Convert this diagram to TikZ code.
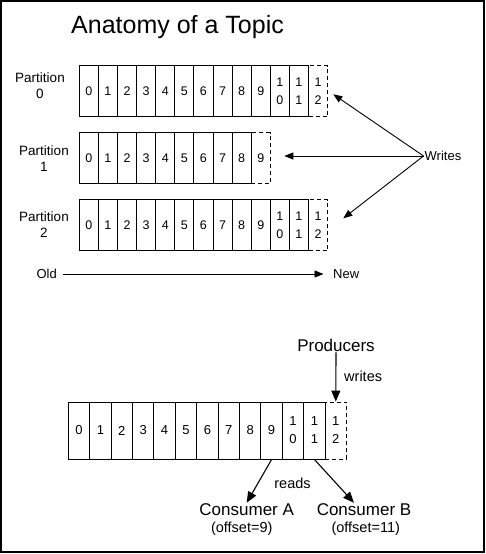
\documentclass[tikz,border=0pt]{standalone}
\usepackage{fontspec}
\setmainfont{Liberation Sans}
\usetikzlibrary{arrows.meta}
\begin{document}
\begin{tikzpicture}[x=1pt,y=-1pt,
  cellbox/.style={draw, line width=0.9pt, minimum width=19.1pt, minimum height=51pt, inner sep=0pt, align=center, font=\fontsize{12.5}{18}\selectfont},
  bigcell/.style={draw, line width=0.9pt, minimum width=21.4pt, minimum height=57pt, inner sep=0pt, align=center, font=\fontsize{13}{18}\selectfont},
  lastcell/.style={dash pattern=on 4pt off 3pt},
  plabel/.style={align=center, inner sep=0pt, font=\fontsize{13.5}{16}\selectfont},
  small/.style={inner sep=1pt, font=\fontsize{13}{15}\selectfont},
  mid/.style={inner sep=1pt, font=\fontsize{14.5}{16}\selectfont},
  big/.style={inner sep=1pt, font=\fontsize{17}{19}\selectfont},
  arr/.style={line width=0.9pt, -{Triangle[length=9pt,width=7pt]}},
  bigarr/.style={line width=1.1pt, -{Triangle[length=11pt,width=9pt]}}]
\useasboundingbox (0,0) rectangle (485,554);
\draw[line width=2pt] (1,1) rectangle (484,552);
% title
\node[anchor=base west, inner sep=0pt, font=\fontsize{25}{28}\selectfont] (title) at (71,33.5) {Anatomy of a Topic};
% partitions
\foreach \r/\ytop/\last in {0/65.5/12,1/132.5/9,2/199.5/12}{
  \foreach \i/\t in {0/0,1/1,2/2,3/3,4/4,5/5,6/6,7/7,8/8,9/9,10/{1\\0},11/{1\\1},12/{1\\2}}{
    \ifnum\i<\last
      \node[cellbox] (p\r-\i) at ({79.3+19.1*(\i+0.5)},{\ytop+25.5}) {\t};
    \else\ifnum\i=\last
      \node[cellbox,lastcell] (p\r-\i) at ({79.3+19.1*(\i+0.5)},{\ytop+25.5}) {\t};
    \fi\fi
  }
}
\node[plabel] (l0) at (40,86) {Partition\\0};
\node[plabel] (l1) at (44,158.5) {Partition\\1};
\node[plabel] (l2) at (44,224.5) {Partition\\2};
% writes
\node[small, anchor=west] (writes) at (423.5,156) {Writes};
\coordinate (w0) at (333.3,94.3);
\coordinate (w1) at (284.3,156);
\coordinate (w2) at (343.3,218.3);
\draw[arr] (writes.west) -- (w0);
\draw[arr] (writes.west) -- (w1);
\draw[arr] (writes.west) -- (w2);
% old new
\node[small, anchor=east, inner sep=0pt] (old) at (57,274) {Old};
\node[small, anchor=west, inner sep=0pt] (new) at (333,274) {New};
\draw[arr, shorten <=6pt, shorten >=9.5pt] (old) -- (new);
% bottom row
\foreach \i/\t in {0/0,1/1,2/2,3/3,4/4,5/5,6/6,7/7,8/8,9/9,10/{1\\0},11/{1\\1}}{
  \node[bigcell] (b-\i) at ({68.3+21.4*(\i+0.5)},430.5) {\t};
}
\node[bigcell,lastcell] (b-12) at ({68.3+21.4*12.5},430.5) {1\\2};
\node[big] (prod) at (336,345) {Producers};
\node[mid, anchor=west] (wr) at (343,376.7) {writes};
\draw[bigarr] (prod.south) -- (b-12.north);
\node[mid] (reads) at (292.5,483.3) {reads};
\node[big] (ca) at (246.7,510) {Consumer A};
\node[mid] (oa) at (241.7,528.3) {(offset=9)};
\node[big] (cb) at (364,510) {Consumer B};
\node[mid] (ob) at (365.7,528.3) {(offset=11)};
\draw[bigarr] (b-9.south) -- (ca.north);
\draw[bigarr] (b-11.south) -- ([xshift=-10pt]cb.north);
\end{tikzpicture}
\end{document}
